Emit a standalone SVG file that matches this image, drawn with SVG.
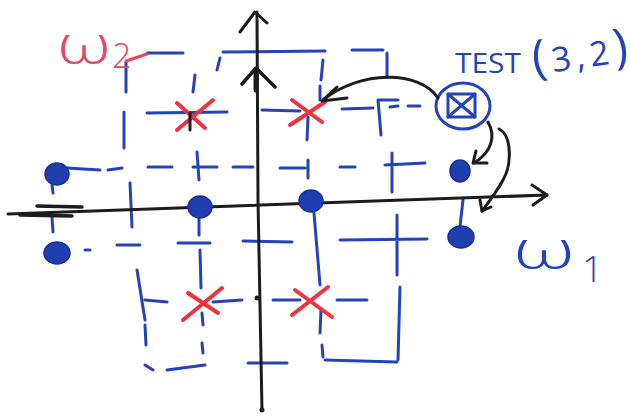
<svg xmlns="http://www.w3.org/2000/svg" width="630" height="417" viewBox="0 0 630 417">
  <style>
    .ink-blue { fill: none; stroke: #2543b8; stroke-width: 3; stroke-linecap: round; stroke-linejoin: round; }
    .ink-black { fill: none; stroke: #1c1c1c; stroke-width: 3; stroke-linecap: round; stroke-linejoin: round; }
    .ink-red { fill: none; stroke: #ee3340; stroke-width: 4; stroke-linecap: round; }
    .dot { fill: #1f3fae; stroke: #17309a; stroke-width: 1.5; }
    .hand { font-family: "Open Sans", "DejaVu Sans", sans-serif; font-weight: 400; }
    .hand-light { font-family: "Open Sans", "DejaVu Sans", sans-serif; font-weight: 300; }
  </style>
  <rect width="630" height="417" fill="#ffffff"/>

  <!-- dashed lattice of cells -->
  <g id="grid" class="ink-blue">
    <path d="M147,53 L183,53 M223,52 L325,51 M352,50 L383,50
             M126,62 L126,92 M220,58 L217,70 M195,75 L193,92 M323,60 L321,80 M320,86 L320,100 M387,53 L387,77
             M147,113 L227,112 M262,110 L300,111 M342,109 L373,108 M378,100 L381,135 M378,100 L398,100 M390,107 L398,106 M408,106 L420,106
             M124,112 L124,148 M308,117 L307,140
             M67,168 L100,170 M108,170 L122,168 M148,167 L172,167 M193,167 L217,167 M197,152 L199,180 M233,167 L253,167 M280,168 L305,168 M308,160 L308,178 M340,167 L355,167 M385,165 L425,163 M392,153 L392,192
             M52,185 L53,193 M130,183 L132,227
             M52,217 L53,232 M199,217 L199,235 M314,213 L320,285 M463,200 L460,226
             M85,250 L90,250 M117,245 L140,245 M178,243 L210,243 M243,241 L292,242 M340,240 L427,239 M397,215 L397,275
             M200,250 L201,288 M137,270 L145,320 M145,300 L167,302 M145,325 L146,345
             M213,302 L242,300 M273,300 L300,300 M337,300 L367,300
             M202,313 L203,325 M202,343 L203,353 M321,310 L320,333 M322,345 L323,357 M400,287 L398,360
             M145,365 L153,370 M167,370 L205,365 M248,363 L287,363 M325,360 L397,362"/>
  </g>

  <!-- axes -->
  <g id="axes" class="ink-black">
    <path d="M257,12 L258,200 L262,410"/>
    <path d="M240,32 L255,12 L267,23"/>
    <path d="M242,84 L256,68 L275,87" stroke-width="3.5"/>
    <path d="M256,70 L256,90" stroke-width="5"/>
    <path d="M8,214 L547,195"/>
    <path d="M532,185 L547,195 L533,205"/>
    <path d="M37,206 L82,207 M20,215 L72,216" stroke-width="3.5"/>
    <circle cx="257" cy="298" r="2.5" fill="#1c1c1c" stroke="none"/>
    <circle cx="262" cy="410" r="2.5" fill="#1c1c1c" stroke="none"/>
  </g>

  <!-- class one samples -->
  <g id="samples-blue">
    <ellipse class="dot" cx="57" cy="174" rx="12" ry="11"/>
    <ellipse class="dot" cx="200" cy="207" rx="12" ry="11"/>
    <ellipse class="dot" cx="311" cy="201" rx="12" ry="11"/>
    <ellipse class="dot" cx="460" cy="171" rx="10" ry="11"/>
    <ellipse class="dot" cx="461" cy="237" rx="13" ry="11"/>
    <ellipse class="dot" cx="57" cy="253" rx="13" ry="11"/>
  </g>

  <!-- class two samples -->
  <g id="samples-red" class="ink-red">
    <path d="M177,130 L213,100 M177,103 L205,128"/>
    <path d="M290,125 L325,102 M292,100 L322,122"/>
    <path d="M183,320 L222,288 M188,293 L218,313"/>
    <path d="M292,315 L328,287 M295,290 L332,317"/>
  </g>
  <path d="M190,113 L190,130" class="ink-black" stroke-width="2.5"/>

  <!-- query point -->
  <g id="test-point" class="ink-blue">
    <ellipse cx="463" cy="106" rx="27" ry="23"/>
    <rect x="448" y="94" width="27" height="23"/>
    <path d="M448,94 L475,117 M475,94 L448,117"/>
    <text class="hand" x="455" y="73" font-size="28" fill="#2543b8" stroke="none" textLength="66" lengthAdjust="spacingAndGlyphs">TEST</text>
    <text class="hand" transform="rotate(-8 540 72)" x="534" y="74" fill="#2543b8" stroke="none"><tspan font-size="48" letter-spacing="5">(</tspan><tspan font-size="34" letter-spacing="5">3,2</tspan><tspan font-size="48">)</tspan></text>
  </g>

  <!-- neighbour search arrows -->
  <g id="connectors" class="ink-black">
    <path d="M438,98 C420,70 360,70 323,100"/>
    <path d="M337,87 L322,101 L347,98"/>
    <path d="M488,122 C496,136 492,152 474,163"/>
    <path d="M476,151 L473,163 L487,163"/>
    <path d="M499,129 C512,135 512,165 503,180 C496,193 488,203 482,211"/>
    <path d="M480,200 L482,211 L491,207"/>
  </g>

  <!-- axis labels -->
  <g id="labels">
    <text class="hand-light" fill="#e8485e"><tspan x="57" y="63" font-size="54" textLength="54" lengthAdjust="spacingAndGlyphs">ω</tspan><tspan x="112" y="68" font-size="34">2</tspan></text>
    <path d="M126,61 L147,54" fill="none" stroke="#e8485e" stroke-width="3" stroke-linecap="round"/>
    <text class="hand-light" fill="#2543b8"><tspan x="513" y="268" font-size="54" textLength="62" lengthAdjust="spacingAndGlyphs">ω</tspan><tspan x="582" y="282" font-size="37">1</tspan></text>
  </g>
</svg>
